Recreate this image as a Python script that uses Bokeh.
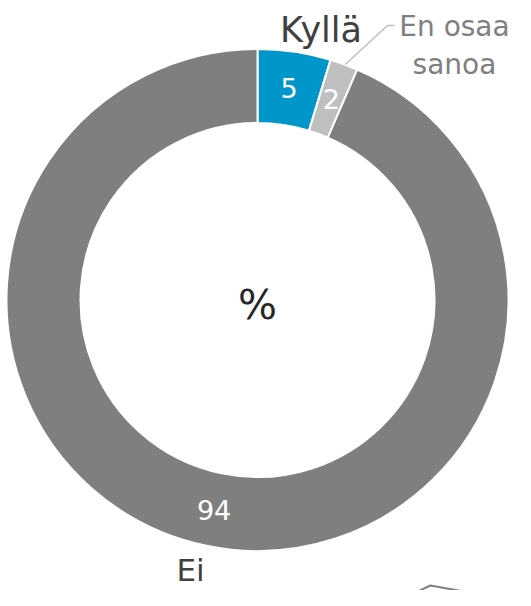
import math
from bokeh.plotting import figure
from bokeh.models import Range1d, ColumnDataSource
from bokeh.core.properties import value
from bokeh.embed import file_html
from bokeh.resources import INLINE

# ---- data ----
categories = ["Kyllä", "En osaa sanoa", "Ei"]
shares = [4.7, 1.8, 93.5]          # estimated shares (%)
value_labels = ["5", "2", "94"]    # labels shown on the slices
colors = ["#0096C9", "#BFBFBF", "#7F7F7F"]
center_label = "%"

FONT = "DejaVu Sans"
W, H = 515, 590
CX, CY = 265, 307.5          # donut centre in page pixels
R_OUT, R_IN = 251, 177

p = figure(width=W, height=H, output_backend="svg", toolbar_location=None,
           x_range=Range1d(8 - CX, 8 + W - CX), y_range=Range1d(CY - 8 - H, CY - 8),
           min_border=0)
p.axis.visible = False
p.grid.visible = False
p.outline_line_color = None
p.background_fill_color = "white"
p.border_fill_color = "white"

total = sum(shares)
starts, ends, mids = [], [], []
cum = 0.0
for s in shares:
    a0 = math.pi / 2 - 2 * math.pi * cum / total
    cum += s
    a1 = math.pi / 2 - 2 * math.pi * cum / total
    starts.append(a0)
    ends.append(a1)
    mids.append((a0 + a1) / 2)

src = ColumnDataSource(dict(start=starts, end=ends, color=colors,
                            x=[0] * 3, y=[0] * 3))
p.annular_wedge(x="x", y="y", inner_radius=R_IN, outer_radius=R_OUT,
                start_angle="start", end_angle="end", direction="clock",
                fill_color="color", line_color="white", line_width=2, source=src)

r_mid = (R_IN + R_OUT) / 2
lx = [r_mid * math.cos(a) for a in mids]
ly = [r_mid * math.sin(a) for a in mids]
p.text(x=lx, y=ly, text=value_labels, text_color="white",
       text_font=value(FONT), text_font_size="27px",
       text_align="center", text_baseline="middle")

# centre label
p.text(x=[0], y=[-5], text=[center_label], text_color="#262626",
       text_font=value(FONT), text_font_size="41px",
       text_align="center", text_baseline="middle")

# category labels
p.text(x=[63.5], y=[CY - 37], text=["Kyllä"], text_color="#404040",
       text_font=value(FONT), text_font_size="35px",
       text_align="center", text_baseline="alphabetic")
p.text(x=[197, 197], y=[CY - 34, CY - 71.5], text=["En osaa", "sanoa"],
       text_color="#7F7F7F", text_font=value(FONT), text_font_size="28px",
       text_align="center", text_baseline="alphabetic")
p.text(x=[-67], y=[CY - 577], text=["Ei"], text_color="#404040",
       text_font=value(FONT), text_font_size="31px",
       text_align="center", text_baseline="alphabetic")

# leader lines
p.line(x=[87.7, 130, 137], y=[235.5, 274.5, 274.5], line_color="#BFBFBF", line_width=1.5)
p.line(x=[145, 173, 245], y=[-298.5, -285.5, -298.5], line_color="#7F7F7F", line_width=2)

open("out.html", "w").write(file_html(p, INLINE))
